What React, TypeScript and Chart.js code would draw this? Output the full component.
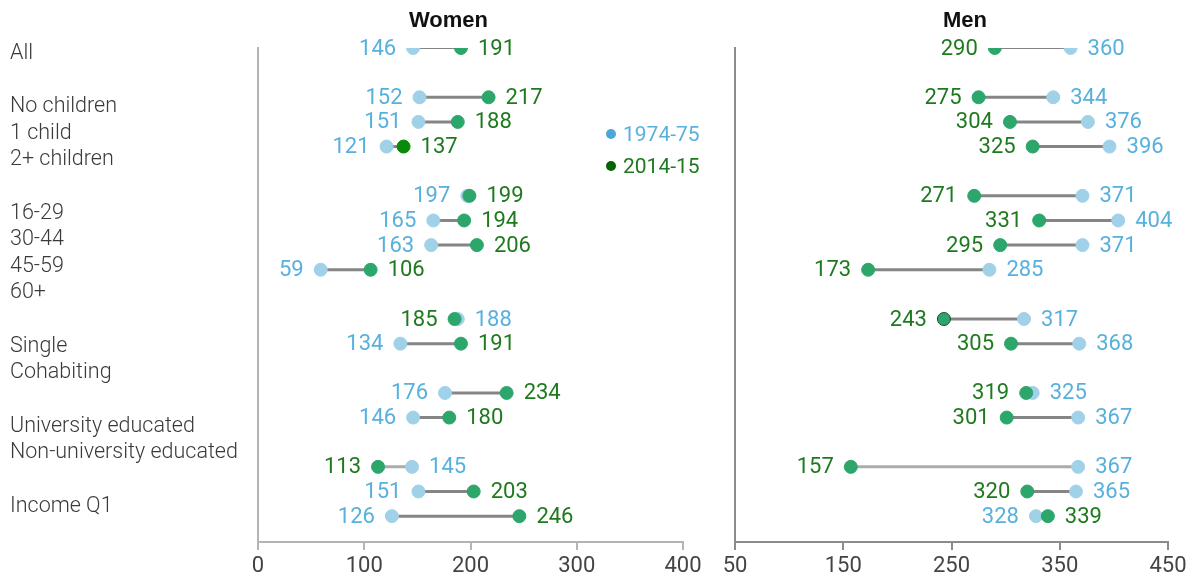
import React, { useEffect, useRef } from "react";
import { Chart, registerables } from "chart.js";

Chart.register(...registerables);

// ---- data ----
const rowLabels = [
  "All", "", "No children", "1 child", "2+ children", "",
  "16-29", "30-44", "45-59", "60+", "",
  "Single", "Cohabiting", "",
  "University educated", "Non-university educated", "",
  "Income Q1",
];
// vertical slot of each plotted row (gaps separate groups)
const rowSlots = [0, 2, 3, 4, 6, 7, 8, 9, 11, 12, 14, 15, 17, 18, 19];

const women1974 = [146, 152, 151, 121, 197, 165, 163, 59, 188, 134, 176, 146, 145, 151, 126];
const women2014 = [191, 217, 188, 137, 199, 194, 206, 106, 185, 191, 234, 180, 113, 203, 246];
const men1974 = [360, 344, 376, 396, 371, 404, 371, 285, 317, 368, 325, 367, 367, 365, 328];
const men2014 = [290, 275, 304, 325, 271, 331, 295, 173, 243, 305, 319, 301, 157, 320, 339];

const womenTicks = [0, 100, 200, 300, 400];
const menTicks = [50, 150, 250, 350, 450];
const seriesNames = ["1974-75", "2014-15"];

// ---- styles ----
const BLUE_DOT = "#a0d1e8";
const GREEN_DOT = "#2ca66b";
const BLUE_TEXT = "#58b0dc";
const GREEN_TEXT = "#1f7a1f";
const FONT = "Roboto, 'Liberation Sans', sans-serif";

type PanelCfg = {
  blue: number[];
  green: number[];
  ticks: number[];
  min: number;
  max: number;
  padLeft: number;
  padRight: number;
  axisColor: string;
  lineColors: string[];
  lineWidths: number[];
  greenFill: string[];
  greenBorder: string[];
};

function makeLabelPlugin(blue: number[], green: number[]) {
  return {
    id: "dumbbellLabels",
    afterDatasetsDraw(chart: any) {
      const { ctx } = chart;
      const xs = chart.scales.x;
      const ys = chart.scales.y;
      ctx.save();
      ctx.font = `22px ${FONT}`;
      ctx.textBaseline = "middle";
      const off = 17;
      rowSlots.forEach((slot, i) => {
        const b = blue[i];
        const g = green[i];
        const py = ys.getPixelForValue(slot) + 1;
        const bx = xs.getPixelForValue(b);
        const gx = xs.getPixelForValue(g);
        const blueLeft = b <= g;
        ctx.fillStyle = BLUE_TEXT;
        ctx.textAlign = blueLeft ? "right" : "left";
        ctx.fillText(String(b), bx + (blueLeft ? -off : off), py);
        ctx.fillStyle = GREEN_TEXT;
        ctx.textAlign = blueLeft ? "left" : "right";
        ctx.fillText(String(g), gx + (blueLeft ? off : -off), py);
      });
      ctx.restore();
    },
  };
}

function Panel({ cfg, width, left }: { cfg: PanelCfg; width: number; left: number }) {
  const ref = useRef<HTMLCanvasElement | null>(null);
  useEffect(() => {
    if (!ref.current) return;
    const connectors = rowSlots.map((slot, i) => ({
      type: "line" as const,
      data: [
        { x: cfg.blue[i], y: slot },
        { x: cfg.green[i], y: slot },
      ],
      borderColor: cfg.lineColors[i],
      borderWidth: cfg.lineWidths[i],
      pointRadius: 0,
      showLine: true,
      fill: false,
      order: 2,
    }));
    const chart = new Chart(ref.current, {
      type: "scatter",
      data: {
        datasets: [
          {
            label: seriesNames[1],
            data: rowSlots.map((slot, i) => ({ x: cfg.green[i], y: slot })),
            pointRadius: 6.5,
            pointBackgroundColor: cfg.greenFill,
            pointBorderColor: cfg.greenBorder,
            pointBorderWidth: 1,
            order: 0,
          } as any,
          {
            label: seriesNames[0],
            data: rowSlots.map((slot, i) => ({ x: cfg.blue[i], y: slot })),
            pointRadius: 6.5,
            pointBackgroundColor: BLUE_DOT,
            pointBorderColor: BLUE_DOT,
            pointBorderWidth: 1,
            order: 1,
          } as any,
          ...(connectors as any[]),
        ],
      },
      options: {
        animation: false,
        responsive: false,
        maintainAspectRatio: false,
        events: [],
        layout: { padding: { left: cfg.padLeft, right: cfg.padRight, top: 48, bottom: 0 } },
        plugins: { legend: { display: false }, tooltip: { enabled: false } },
        scales: {
          x: {
            type: "linear",
            min: cfg.min,
            max: cfg.max,
            afterBuildTicks: (s: any) => {
              s.ticks = cfg.ticks.map((v) => ({ value: v }));
            },
            afterFit: (s: any) => {
              s.height = 38;
            },
            ticks: {
              font: { family: FONT, size: 22, weight: "400" },
              color: "#444",
              padding: 3,
              maxRotation: 0,
              autoSkip: false,
            },
            grid: {
              display: true,
              drawOnChartArea: false,
              drawTicks: true,
              tickLength: 8,
              color: cfg.axisColor,
              lineWidth: 2,
            },
            border: { display: true, color: cfg.axisColor, width: 2 },
          },
          y: {
            type: "linear",
            min: 0,
            max: 20.05,
            reverse: true,
            ticks: { display: false },
            grid: { display: false, drawTicks: false },
            border: { display: true, color: cfg.axisColor, width: 2 },
            afterFit: (s: any) => {
              s.width = 0;
            },
          },
        },
      } as any,
      plugins: [makeLabelPlugin(cfg.blue, cfg.green)],
    });
    return () => chart.destroy();
  }, [cfg]);
  return (
    <canvas
      ref={ref}
      width={width}
      height={580}
      style={{ position: "absolute", left, top: 0, width, height: 580 }}
    />
  );
}

const baseLine = "#858585";
const lightLine = "#ababab";
const womenCfg: PanelCfg = {
  blue: women1974,
  green: women2014,
  ticks: womenTicks,
  min: 0,
  max: 400,
  padLeft: 258,
  padRight: 27,
  axisColor: "#b4b4b4",
  lineColors: rowSlots.map((_, i) => (i === 12 ? lightLine : baseLine)),
  lineWidths: rowSlots.map((_, i) => (i === 0 ? 2 : 3)),
  greenFill: rowSlots.map((_, i) => (i === 3 ? "#0a8a0a" : GREEN_DOT)),
  greenBorder: rowSlots.map((_, i) => (i === 3 ? "#0a8a0a" : GREEN_DOT)),
};
const menCfg: PanelCfg = {
  blue: men1974,
  green: men2014,
  ticks: menTicks,
  min: 50,
  max: 450,
  padLeft: 25,
  padRight: 24,
  axisColor: "#8c8c8c",
  lineColors: rowSlots.map((_, i) => (i === 12 ? lightLine : baseLine)),
  lineWidths: rowSlots.map((_, i) => (i === 0 ? 2 : 3)),
  greenFill: rowSlots.map(() => GREEN_DOT),
  greenBorder: rowSlots.map((_, i) => (i === 8 ? "#1b4d2b" : GREEN_DOT)),
};

export default function App() {
  const lineH = 26.65;
  const titleStyle: React.CSSProperties = {
    position: "absolute",
    top: 7,
    fontFamily: "'Liberation Sans', Arial, sans-serif",
    fontWeight: 700,
    fontSize: 22,
    color: "#111",
    lineHeight: "26px",
  };
  return (
    <div
      style={{
        position: "absolute",
        left: 0,
        top: 0,
        width: 1192,
        height: 580,
        background: "#fff",
        overflow: "hidden",
        fontFamily: FONT,
      }}
    >
      <Panel cfg={womenCfg} width={710} left={0} />
      <Panel cfg={menCfg} width={482} left={710} />
      {/* category labels */}
      <div
        style={{
          position: "absolute",
          left: 10,
          top: 52 - lineH / 2,
          fontSize: 21.5,
          fontWeight: 300,
          lineHeight: `${lineH}px`,
          color: "#3a3a3a",
          whiteSpace: "pre",
        }}
      >
        {rowLabels.map((l, i) => (
          <div key={i} style={{ height: lineH }}>
            {l}
          </div>
        ))}
      </div>
      {/* titles */}
      <div style={{ ...titleStyle, left: 409 }}>Women</div>
      <div style={{ ...titleStyle, left: 943 }}>Men</div>
      {/* legend */}
      {[
        { name: seriesNames[0], dot: "#4aa8d8", text: BLUE_TEXT, y: 134 },
        { name: seriesNames[1], dot: "#006400", text: GREEN_TEXT, y: 166 },
      ].map((it) => (
        <div key={it.name}>
          <div
            style={{
              position: "absolute",
              left: 606,
              top: it.y - 5,
              width: 10,
              height: 10,
              borderRadius: 5,
              background: it.dot,
            }}
          />
          <div
            style={{
              position: "absolute",
              left: 623,
              top: it.y - 14,
              fontSize: 21,
              lineHeight: "28px",
              color: it.text,
            }}
          >
            {it.name}
          </div>
        </div>
      ))}
    </div>
  );
}
